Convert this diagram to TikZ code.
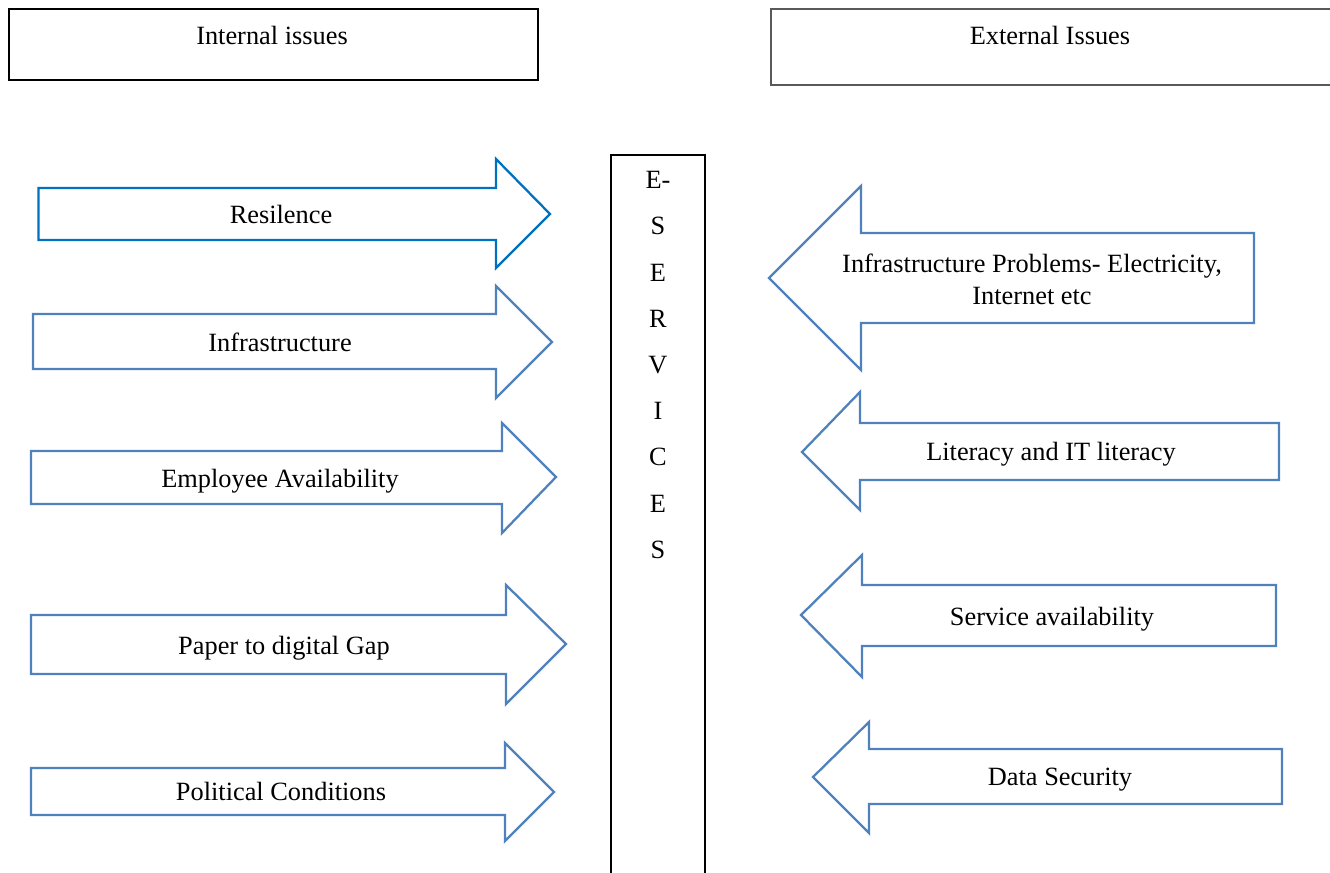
\documentclass[tikz,border=0pt]{standalone}
\usepackage{fontspec}
\setmainfont{Liberation Serif}
\definecolor{arrowblue}{HTML}{4F81BD}
\definecolor{darkblue}{HTML}{0070C0}

\begin{document}
\begin{tikzpicture}[x=0.02cm, y=-0.02cm,
    issue/.style={font=\fontsize{15}{18.2}\selectfont, align=center, inner sep=0pt},
    issuetxt/.style={issue, text height=10.2pt, text depth=0pt},
    inarr/.style={draw=arrowblue, line width=1.3pt, line join=miter},
    outarr/.style={draw=arrowblue, line width=1.3pt, line join=miter},
    headbox/.style={line width=1.4pt}
  ]
    \clip (0,0) rectangle (1330,873);

    % header boxes
    \draw[headbox] (9,9) rectangle (538,80);
    \draw[line width=1pt, draw=black!65] (771,9) rectangle (1345,85);
    \node[issuetxt] (intiss) at (272,36) {Internal issues};
    \node[issuetxt] (extiss) at (1050,36) {External Issues};

    % E-services column
    \draw[line width=1.2pt] (611,155) rectangle (705,900);
    \node[issue, font=\fontsize{15}{26.3}\selectfont, anchor=north] (eserv) at (658,171)
      {E-\\S\\E\\R\\V\\I\\C\\E\\S};

    % internal issues, pointing right
    \draw[inarr, draw=darkblue] (38.5,188) -- (496,188) -- (496,159) -- (550,214) -- (496,268) -- (496,240) -- (38.5,240) -- cycle;
    \draw[inarr] (33,314) -- (496,314) -- (496,286) -- (552,342) -- (496,398) -- (496,369) -- (33,369) -- cycle;
    \draw[inarr] (31,451) -- (502,451) -- (502,423) -- (556,477) -- (502,533) -- (502,504) -- (31,504) -- cycle;
    \draw[inarr] (31,615) -- (506,615) -- (506,585) -- (566,644) -- (506,704) -- (506,674) -- (31,674) -- cycle;
    \draw[inarr] (31,768) -- (505,768) -- (505,743) -- (554,792) -- (505,841) -- (505,815) -- (31,815) -- cycle;
    \node[issuetxt] (resil) at (281,215) {Resilence};
    \node[issuetxt] (infra) at (280,343) {Infrastructure};
    \node[issuetxt] (employ) at (280,479) {Employee Availability};
    \node[issuetxt] (paper) at (284,646) {Paper to digital Gap};
    \node[issuetxt] (politic) at (281,792) {Political Conditions};

    % external issues, pointing left
    \draw[outarr] (1254,233) -- (861,233) -- (861,186) -- (769,278) -- (861,370) -- (861,323) -- (1254,323) -- cycle;
    \draw[outarr] (1279,423) -- (860,423) -- (860,392) -- (802,452) -- (860,510) -- (860,480) -- (1279,480) -- cycle;
    \draw[outarr] (1276,585) -- (862,585) -- (862,555) -- (801,615) -- (862,677) -- (862,646) -- (1276,646) -- cycle;
    \draw[outarr] (1282,749) -- (869,749) -- (869,722) -- (813,777) -- (869,833) -- (869,804) -- (1282,804) -- cycle;
    \node[issue] (infprob) at (1032,279) {Infrastructure Problems- Electricity,\\Internet etc};
    \node[issuetxt] (literacy) at (1051,452) {Literacy and IT literacy};
    \node[issuetxt] (service) at (1052,617) {Service availability};
    \node[issuetxt] (datasec) at (1060,777) {Data Security};
  \end{tikzpicture}
\end{document}
